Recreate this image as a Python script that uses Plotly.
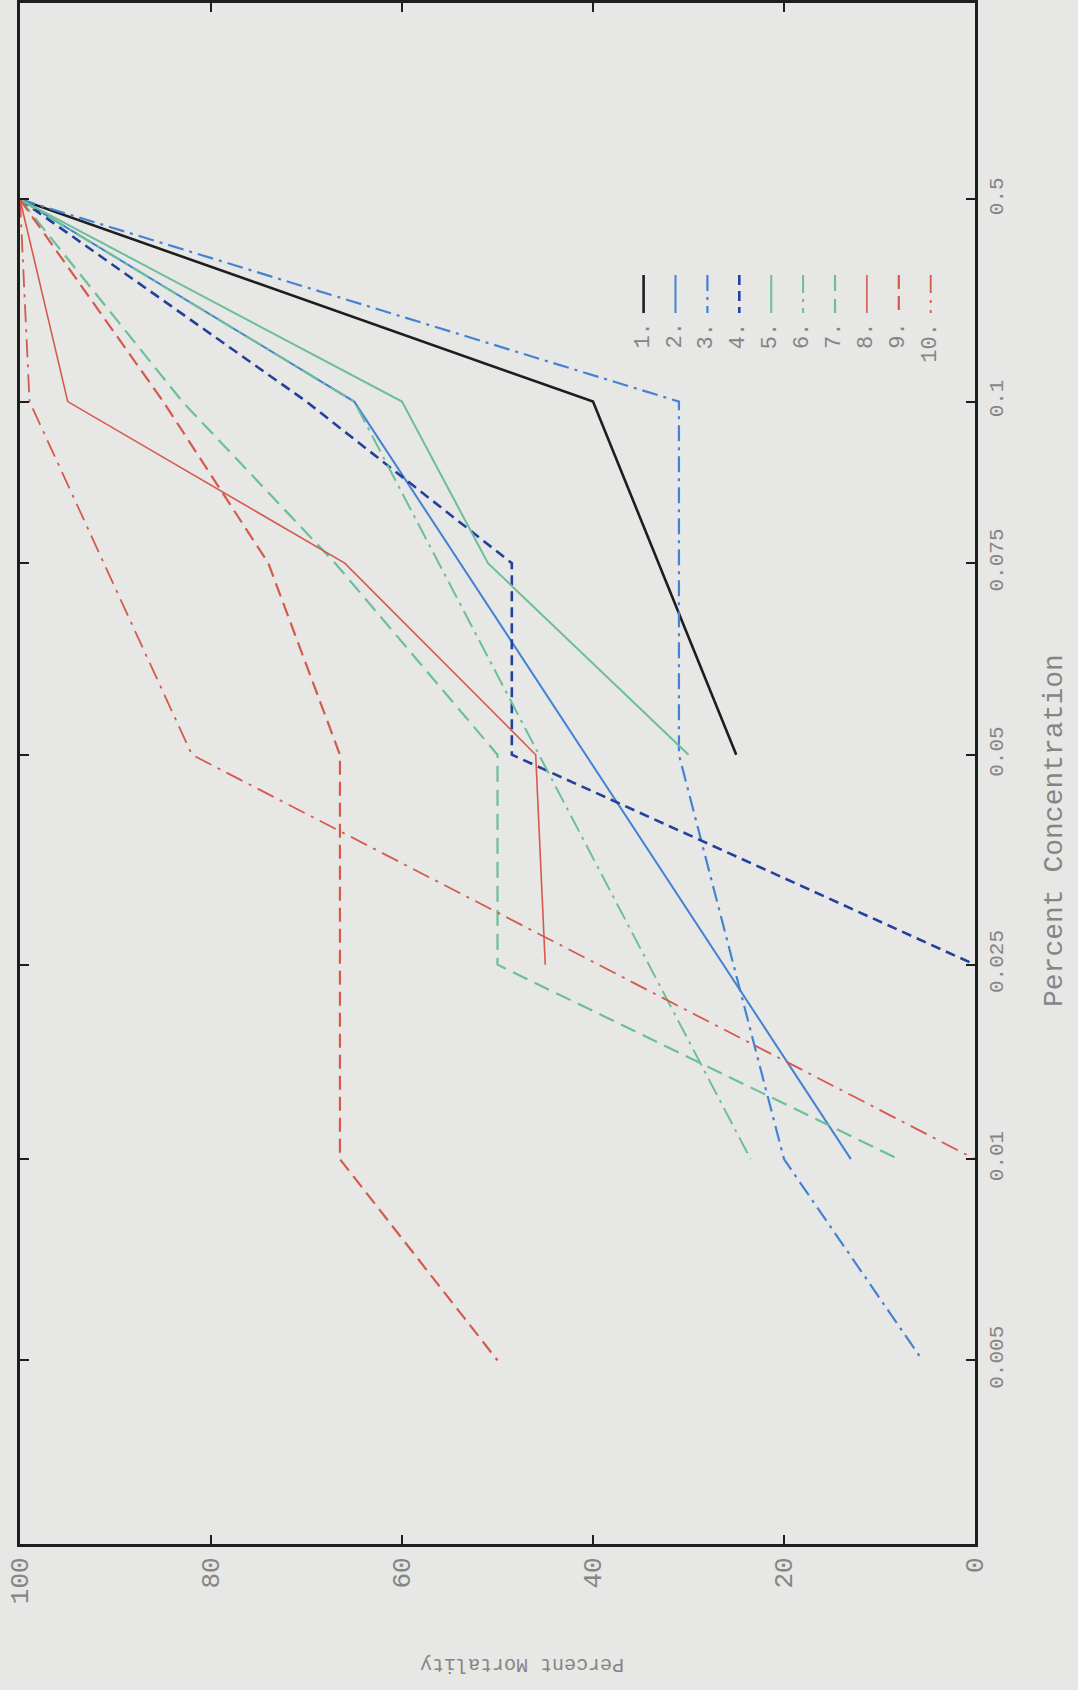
import plotly.graph_objects as go

# ---------------- data ----------------
concentration_labels = ["0.005", "0.01", "0.025", "0.05", "0.075", "0.1", "0.5"]
mortality_ticks = [100, 80, 60, 40, 20, 0]
series_names = ["1.", "2.", "3.", "4.", "5.", "6.", "7.", "8.", "9.", "10."]

s1_conc = ["0.5", "0.1", "0.05"]
s1_mort = [100, 40, 25]
s2_conc = ["0.5", "0.1", "0.01"]
s2_mort = [100, 65, 13]
s3_conc = ["0.5", "0.1", "0.05", "0.01", "0.005"]
s3_mort = [100, 31, 31, 20, 5.5]
s4_conc = ["0.5", "0.1", "0.075", "0.05", "0.025"]
s4_mort = [100, 70, 48.5, 48.5, 0]
s5_conc = ["0.5", "0.1", "0.075", "0.05"]
s5_mort = [100, 60, 51, 30]
s6_conc = ["0.5", "0.1", "0.01"]
s6_mort = [100, 65, 23.5]
s7_conc = ["0.5", "0.1", "0.075", "0.05", "0.025", "0.01"]
s7_mort = [100, 83, 67, 50, 50, 8]
s8_conc = ["0.5", "0.1", "0.075", "0.05", "0.025"]
s8_mort = [100, 95, 66, 46, 45]
s9_conc = ["0.5", "0.1", "0.075", "0.05", "0.01", "0.005"]
s9_mort = [100, 85, 74, 66.5, 66.5, 50]
s10_conc = ["0.5", "0.1", "0.05", "0.01"]
s10_mort = [100, 99, 82, 0]

series_conc = [s1_conc, s2_conc, s3_conc, s4_conc, s5_conc,
               s6_conc, s7_conc, s8_conc, s9_conc, s10_conc]
series_mort = [s1_mort, s2_mort, s3_mort, s4_mort, s5_mort,
               s6_mort, s7_mort, s8_mort, s9_mort, s10_mort]

# hand-drawn (uneven) tick spacing of the concentration axis, in axis units
concentration_axis_positions = [0.0, 1.04, 2.045, 3.13, 4.12, 4.955, 6.0]
conc_pos = dict(zip(concentration_labels, concentration_axis_positions))

# ---------------- styles ----------------
BLACK = "#1e1e1e"
BLUE = "#4482d2"
DBLUE = "#23409a"
GREEN = "#6cbf98"
RED = "#d45a4e"
colors = [BLACK, BLUE, BLUE, DBLUE, GREEN, GREEN, GREEN, RED, RED, RED]
dashes = ["solid", "solid", "16px,6px,3px,6px", "10px,6px", "solid",
          "18px,6px,3px,6px", "16px,8px", "solid", "14px,7px", "18px,7px,3px,7px"]
widths = [2.6, 2.0, 2.2, 2.6, 2.0, 2.0, 2.2, 1.6, 2.2, 1.8]

W, H = 1078, 1690
L, R, T, B = 20, 975, 3, 1544
BG = "#e7e7e5"
TXT = "#858585"
FONT = "Liberation Mono"

fig = go.Figure()
for conc, mort, c, d, w in zip(series_conc, series_mort, colors, dashes, widths):
    fig.add_trace(go.Scatter(
        x=mort, y=[conc_pos[v] for v in conc], mode="lines",
        line=dict(color=c, dash=d, width=w),
        showlegend=False, hoverinfo="skip"))

def px_x(px):
    return (px - L) / (R - L)

def px_y(py):
    return (B - py) / (B - T)

shapes = []
annotations = []
# custom rotated legend
for i, name in enumerate(series_names):
    xp = 643.6 + 31.9 * i
    shapes.append(dict(type="line", xref="paper", yref="paper",
                       x0=px_x(xp), x1=px_x(xp), y0=px_y(275), y1=px_y(313),
                       line=dict(color=colors[i], dash=dashes[i], width=widths[i])))
    annotations.append(dict(text=name, xref="paper", yref="paper",
                            x=px_x(xp), y=px_y(321), xanchor="center", yanchor="top",
                            textangle=-90, showarrow=False,
                            font=dict(family=FONT, size=22, color=TXT)))

annotations.append(dict(text="Percent Mortality", xref="paper", yref="paper",
                        x=px_x(522), y=px_y(1665), xanchor="center", yanchor="middle",
                        textangle=180, showarrow=False,
                        font=dict(family=FONT, size=20, color=TXT)))
annotations.append(dict(text="Percent Concentration", xref="paper", yref="paper",
                        x=px_x(1054), y=px_y(831), xanchor="center", yanchor="middle",
                        textangle=-90, showarrow=False,
                        font=dict(family=FONT, size=28, color=TXT)))

fig.update_layout(
    width=W, height=H,
    margin=dict(l=L, r=W - R, t=T, b=H - B, autoexpand=False),
    paper_bgcolor=BG, plot_bgcolor=BG,
    shapes=shapes, annotations=annotations,
    xaxis=dict(range=[100, 0], tickvals=mortality_ticks,
               ticktext=[str(v) for v in mortality_ticks], automargin=False,
               ticklabeloverflow="allow",
               tickangle=-90, ticks="inside", ticklen=9, tickwidth=2, tickcolor="#1e1e1e",
               showline=True, linewidth=3, linecolor="#1e1e1e", mirror="ticks",
               showgrid=False, zeroline=False,
               tickfont=dict(family=FONT, size=26, color=TXT)),
    yaxis=dict(range=[-0.949, 7.015], side="right", automargin=False,
               ticklabeloverflow="allow",
               tickvals=concentration_axis_positions, ticktext=concentration_labels,
               tickangle=-90, ticks="inside", ticklen=9, tickwidth=2, tickcolor="#1e1e1e",
               showline=True, linewidth=3, linecolor="#1e1e1e", mirror="ticks",
               showgrid=False, zeroline=False,
               tickfont=dict(family=FONT, size=21, color=TXT)),
)

fig.write_html(
    "out.html",
    config={"displayModeBar": False},
    post_script="document.body.style.margin='0';document.body.style.background='" + BG + "';",
)
